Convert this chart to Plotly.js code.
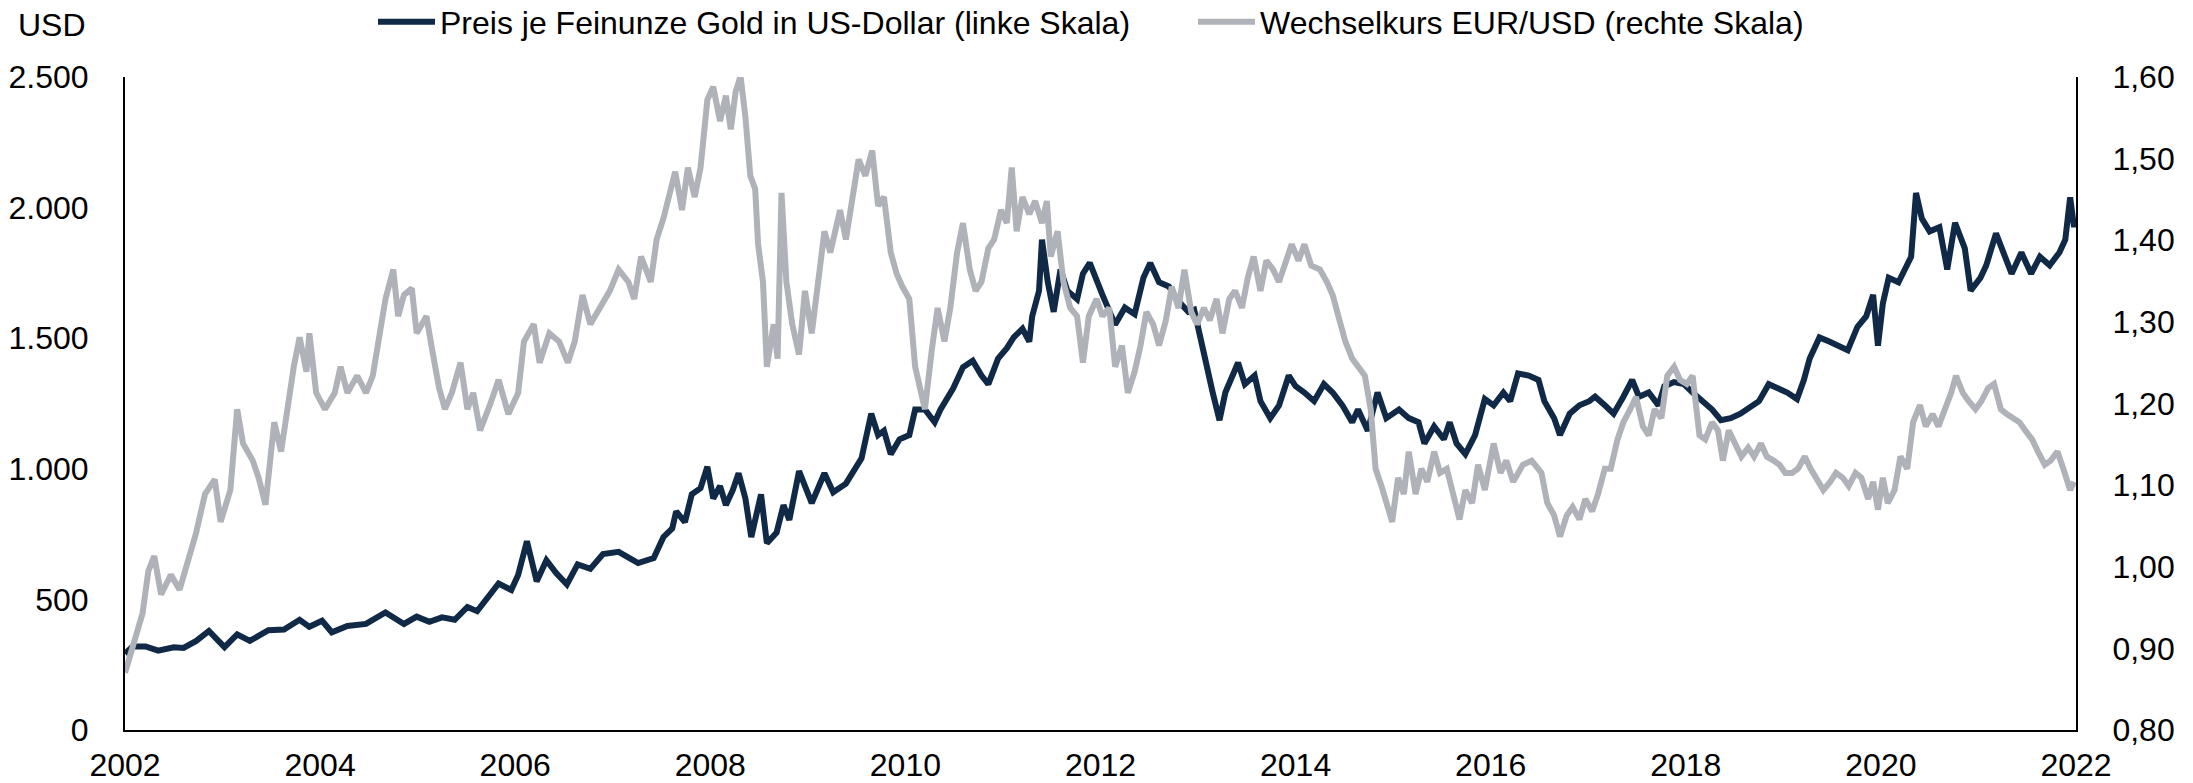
<!DOCTYPE html>
<html>
<head>
<meta charset="utf-8">
<script src="https://cdn.plot.ly/plotly-3.0.1.min.js"></script>
<style>html,body{margin:0;padding:0;background:#fff;}#chart{width:2193px;height:783px;}</style>
</head>
<body>
<div id="chart"></div>
<script>
// Gold price per troy ounce in USD (left scale)
const goldYears = [2002.00,2002.08,2002.21,2002.34,2002.50,2002.60,2002.73,2002.86,2003.02,2003.15,2003.28,2003.47,2003.63,2003.79,2003.89,2004.02,2004.12,2004.28,2004.47,2004.67,2004.86,2004.99,2005.12,2005.25,2005.38,2005.51,2005.61,2005.70,2005.83,2005.96,2006.03,2006.12,2006.22,2006.32,2006.42,2006.53,2006.64,2006.77,2006.90,2007.06,2007.16,2007.26,2007.42,2007.52,2007.61,2007.65,2007.74,2007.81,2007.90,2007.97,2008.03,2008.10,2008.16,2008.23,2008.29,2008.36,2008.42,2008.52,2008.58,2008.68,2008.75,2008.81,2008.91,2009.04,2009.17,2009.26,2009.39,2009.49,2009.55,2009.65,2009.72,2009.78,2009.85,2009.94,2010.04,2010.10,2010.20,2010.30,2010.36,2010.49,2010.59,2010.69,2010.78,2010.85,2010.95,2011.04,2011.11,2011.20,2011.27,2011.30,2011.37,2011.40,2011.46,2011.52,2011.59,2011.66,2011.76,2011.82,2011.89,2012.02,2012.15,2012.25,2012.35,2012.44,2012.51,2012.60,2012.70,2012.80,2012.90,2012.96,2013.03,2013.09,2013.15,2013.22,2013.28,2013.41,2013.48,2013.58,2013.64,2013.74,2013.83,2013.93,2014.00,2014.09,2014.19,2014.29,2014.38,2014.48,2014.58,2014.64,2014.74,2014.84,2014.93,2015.06,2015.16,2015.26,2015.32,2015.42,2015.52,2015.58,2015.65,2015.74,2015.84,2015.94,2016.03,2016.13,2016.20,2016.28,2016.39,2016.49,2016.55,2016.65,2016.71,2016.81,2016.91,2017.01,2017.07,2017.17,2017.26,2017.36,2017.45,2017.52,2017.62,2017.72,2017.78,2017.88,2017.98,2018.07,2018.17,2018.27,2018.36,2018.46,2018.56,2018.66,2018.75,2018.85,2018.95,2019.04,2019.14,2019.21,2019.27,2019.37,2019.47,2019.56,2019.66,2019.76,2019.85,2019.92,2019.97,2020.02,2020.08,2020.18,2020.24,2020.31,2020.36,2020.42,2020.50,2020.60,2020.68,2020.76,2020.86,2020.92,2021.02,2021.08,2021.18,2021.25,2021.34,2021.44,2021.54,2021.63,2021.73,2021.83,2021.89,2021.94,2021.98,2021.99];
const goldPrice = [292,320,320,304,317,314,341,379,317,366,341,382,385,422,395,418,374,398,406,450,406,434,414,431,422,471,455,496,561,536,593,723,569,650,601,557,634,617,674,682,658,639,658,739,772,837,796,902,926,1008,886,934,861,918,983,886,739,902,715,756,861,804,991,869,983,910,943,1000,1040,1211,1129,1146,1056,1113,1129,1227,1227,1178,1227,1308,1389,1414,1357,1324,1422,1462,1503,1536,1487,1584,1682,1877,1714,1601,1763,1682,1649,1747,1788,1666,1552,1617,1592,1731,1788,1714,1698,1641,1601,1609,1487,1406,1292,1186,1292,1406,1324,1357,1259,1194,1243,1357,1316,1292,1259,1324,1292,1243,1178,1227,1146,1292,1194,1227,1194,1178,1097,1162,1113,1178,1097,1056,1129,1267,1243,1292,1259,1365,1357,1340,1259,1194,1129,1211,1243,1259,1276,1243,1211,1276,1340,1276,1292,1243,1316,1332,1324,1292,1259,1227,1186,1194,1211,1235,1259,1324,1308,1292,1267,1340,1422,1503,1487,1471,1454,1544,1584,1666,1471,1633,1731,1714,1763,1812,2056,1958,1909,1925,1763,1942,1844,1682,1731,1779,1901,1828,1747,1828,1747,1812,1779,1828,1877,2039,1925,1958];

// EUR/USD exchange rate (right scale)
const fxYears = [2002.00,2002.08,2002.18,2002.24,2002.30,2002.37,2002.47,2002.56,2002.66,2002.73,2002.82,2002.92,2002.98,2003.08,2003.15,2003.21,2003.31,2003.37,2003.44,2003.53,2003.60,2003.66,2003.73,2003.79,2003.86,2003.89,2003.96,2004.05,2004.15,2004.21,2004.28,2004.38,2004.47,2004.54,2004.60,2004.67,2004.75,2004.80,2004.86,2004.94,2004.99,2005.09,2005.15,2005.22,2005.28,2005.35,2005.44,2005.51,2005.57,2005.64,2005.74,2005.83,2005.93,2006.03,2006.09,2006.19,2006.25,2006.35,2006.45,2006.54,2006.61,2006.69,2006.77,2006.87,2006.97,2007.06,2007.16,2007.22,2007.29,2007.39,2007.45,2007.52,2007.58,2007.64,2007.71,2007.77,2007.84,2007.90,2007.97,2008.03,2008.10,2008.16,2008.21,2008.26,2008.31,2008.36,2008.41,2008.46,2008.49,2008.54,2008.58,2008.65,2008.69,2008.73,2008.78,2008.84,2008.91,2008.97,2009.04,2009.10,2009.17,2009.23,2009.33,2009.39,2009.46,2009.52,2009.59,2009.66,2009.72,2009.78,2009.85,2009.91,2009.97,2010.04,2010.10,2010.16,2010.20,2010.27,2010.33,2010.40,2010.46,2010.53,2010.59,2010.66,2010.72,2010.78,2010.85,2010.91,2010.98,2011.04,2011.09,2011.14,2011.20,2011.27,2011.33,2011.40,2011.45,2011.49,2011.56,2011.62,2011.69,2011.76,2011.82,2011.88,2011.96,2012.02,2012.09,2012.15,2012.22,2012.28,2012.35,2012.41,2012.47,2012.54,2012.60,2012.67,2012.73,2012.80,2012.86,2012.93,2012.99,2013.06,2013.12,2013.19,2013.25,2013.32,2013.38,2013.45,2013.51,2013.57,2013.64,2013.70,2013.77,2013.83,2013.90,2013.96,2014.03,2014.09,2014.16,2014.25,2014.32,2014.38,2014.45,2014.51,2014.58,2014.64,2014.71,2014.77,2014.82,2014.88,2014.93,2014.99,2015.05,2015.11,2015.16,2015.23,2015.29,2015.35,2015.42,2015.48,2015.55,2015.61,2015.68,2015.74,2015.81,2015.87,2015.94,2016.03,2016.10,2016.16,2016.23,2016.33,2016.42,2016.52,2016.58,2016.65,2016.71,2016.78,2016.84,2016.91,2016.97,2017.04,2017.10,2017.17,2017.23,2017.30,2017.36,2017.43,2017.49,2017.56,2017.62,2017.68,2017.75,2017.81,2017.88,2017.94,2018.01,2018.07,2018.14,2018.20,2018.27,2018.33,2018.38,2018.44,2018.51,2018.57,2018.64,2018.70,2018.77,2018.83,2018.90,2018.96,2019.02,2019.09,2019.15,2019.22,2019.28,2019.35,2019.41,2019.48,2019.54,2019.61,2019.67,2019.74,2019.80,2019.87,2019.92,2019.97,2020.02,2020.07,2020.14,2020.20,2020.27,2020.33,2020.40,2020.46,2020.53,2020.59,2020.66,2020.72,2020.77,2020.84,2020.90,2020.97,2021.03,2021.10,2021.16,2021.23,2021.29,2021.35,2021.42,2021.48,2021.55,2021.61,2021.68,2021.74,2021.81,2021.87,2021.94,2021.98];
const fxRate = [0.870,0.901,0.943,0.995,1.013,0.966,0.990,0.972,1.011,1.042,1.089,1.107,1.055,1.094,1.193,1.151,1.130,1.109,1.076,1.177,1.141,1.193,1.245,1.281,1.239,1.286,1.213,1.193,1.213,1.245,1.213,1.234,1.213,1.234,1.276,1.328,1.364,1.307,1.333,1.341,1.286,1.307,1.265,1.219,1.193,1.213,1.250,1.193,1.213,1.167,1.198,1.229,1.187,1.213,1.276,1.297,1.250,1.286,1.276,1.250,1.276,1.333,1.297,1.317,1.338,1.364,1.349,1.328,1.380,1.349,1.401,1.427,1.458,1.484,1.437,1.489,1.453,1.489,1.572,1.588,1.546,1.577,1.536,1.582,1.601,1.551,1.479,1.463,1.395,1.349,1.245,1.297,1.255,1.458,1.349,1.297,1.260,1.338,1.286,1.349,1.411,1.385,1.437,1.401,1.453,1.499,1.479,1.510,1.442,1.453,1.385,1.359,1.343,1.328,1.245,1.213,1.193,1.265,1.317,1.276,1.317,1.385,1.421,1.364,1.338,1.349,1.390,1.401,1.437,1.421,1.489,1.411,1.453,1.432,1.448,1.421,1.448,1.380,1.411,1.349,1.317,1.307,1.250,1.307,1.328,1.307,1.317,1.245,1.271,1.213,1.239,1.271,1.312,1.297,1.271,1.302,1.343,1.317,1.364,1.312,1.297,1.317,1.302,1.328,1.286,1.328,1.338,1.317,1.354,1.380,1.338,1.375,1.364,1.349,1.375,1.395,1.375,1.395,1.369,1.364,1.349,1.333,1.302,1.276,1.255,1.245,1.234,1.193,1.120,1.099,1.078,1.055,1.109,1.089,1.141,1.089,1.120,1.104,1.141,1.115,1.120,1.089,1.058,1.094,1.078,1.125,1.094,1.151,1.115,1.130,1.104,1.125,1.130,1.115,1.078,1.063,1.037,1.063,1.073,1.058,1.083,1.068,1.089,1.120,1.120,1.156,1.177,1.193,1.208,1.172,1.161,1.193,1.182,1.234,1.245,1.229,1.224,1.234,1.161,1.156,1.177,1.167,1.130,1.167,1.151,1.135,1.146,1.135,1.151,1.135,1.130,1.125,1.115,1.115,1.120,1.135,1.120,1.104,1.094,1.104,1.115,1.109,1.099,1.115,1.109,1.083,1.104,1.070,1.109,1.078,1.094,1.135,1.120,1.177,1.198,1.172,1.187,1.172,1.193,1.213,1.234,1.213,1.203,1.193,1.203,1.219,1.224,1.193,1.187,1.182,1.177,1.167,1.156,1.141,1.125,1.130,1.141,1.120,1.094,1.104];

const xTicks = [2002,2004,2006,2008,2010,2012,2014,2016,2018,2020,2022];
const xTickText = ["2002","2004","2006","2008","2010","2012","2014","2016","2018","2020","2022"];
const leftTicks = [0,500,1000,1500,2000,2500];
const rightTicks = [0.8,0.9,1.0,1.1,1.2,1.3,1.4,1.5,1.6];

const FONT = "Liberation Sans, Arial, Helvetica, sans-serif";
const W = 2193, H = 783, L = 125, R = 117, T = 77, B = 53;
const pw = W - L - R, ph = H - T - B;
const px = v => (v - L) / pw;
const py = v => (H - B - v) / ph;

const traces = [
  {x: fxYears, y: fxRate, type: 'scatter', mode: 'lines', yaxis: 'y2',
   name: 'Wechselkurs EUR/USD (rechte Skala)', legend: 'legend2',
   line: {color: '#afb2b8', width: 6}},
  {x: goldYears, y: goldPrice, type: 'scatter', mode: 'lines', yaxis: 'y',
   name: 'Preis je Feinunze Gold in US-Dollar (linke Skala)', legend: 'legend',
   line: {color: '#0f2947', width: 6}}
];

const axisCommon = {showgrid: false, zeroline: false, showline: true, linecolor: '#000', linewidth: 2,
  ticks: '', tickfont: {family: FONT, size: 32, color: '#000'}};

const layout = {
  width: W, height: H,
  margin: {l: L, r: R, t: T, b: B, pad: 0, autoexpand: false},
  paper_bgcolor: '#fff', plot_bgcolor: '#fff',
  separators: ',.',
  font: {family: FONT, size: 32, color: '#000'},
  showlegend: true,
  xaxis: Object.assign({}, axisCommon, {range: [2002, 2022], tickvals: xTicks, ticktext: xTickText, ticklabelstandoff: 6, automargin: false}),
  yaxis: Object.assign({}, axisCommon, {range: [0, 2500], tickvals: leftTicks, tickformat: ',d', separatethousands: true, ticklabelstandoff: 28, automargin: false}),
  yaxis2: Object.assign({}, axisCommon, {range: [0.8, 1.6], tickvals: rightTicks, tickformat: '.2f', overlaying: 'y', side: 'right', ticklabelstandoff: 28, automargin: false}),
  legend: {x: px(373), xanchor: 'left', y: py(22), yanchor: 'middle', orientation: 'h',
    font: {family: FONT, size: 32, color: '#000'}, itemwidth: 57, bgcolor: 'rgba(0,0,0,0)', borderwidth: 0},
  legend2: {x: px(1193), xanchor: 'left', y: py(22), yanchor: 'middle', orientation: 'h',
    font: {family: FONT, size: 32, color: '#000'}, itemwidth: 57, bgcolor: 'rgba(0,0,0,0)', borderwidth: 0},
  annotations: [
    {text: 'USD', xref: 'paper', yref: 'paper', x: px(16), y: py(25), xanchor: 'left', yanchor: 'middle',
     showarrow: false, font: {family: FONT, size: 32, color: '#000'}}
  ]
};

Plotly.newPlot('chart', traces, layout, {displayModeBar: false, staticPlot: true});
</script>
</body>
</html>
